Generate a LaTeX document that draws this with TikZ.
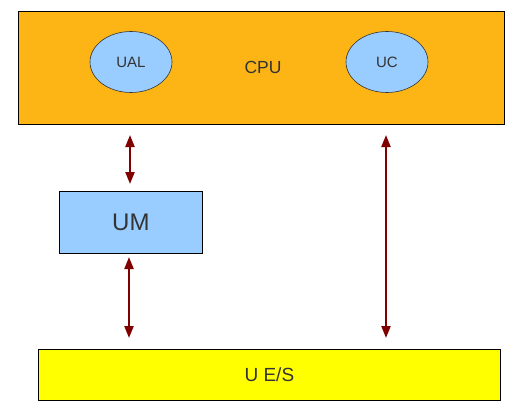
\documentclass[tikz,border=0pt]{standalone}
\usepackage{fontspec}
\setmainfont{Liberation Sans}
\usetikzlibrary{arrows.meta,shapes.geometric}
\definecolor{cpuorange}{HTML}{FDB515}
\definecolor{lblue}{HTML}{99CCFF}
\definecolor{ioyellow}{HTML}{FFFF00}
\definecolor{arrowred}{HTML}{800000}
\definecolor{txt}{HTML}{333333}
\tikzset{
  box/.style={draw=black, line width=0.8pt, inner sep=0pt, text=txt},
  unit/.style={ellipse, draw=black!80, line width=0.6pt, fill=lblue, inner sep=0pt, text=txt, font=\fontsize{15}{15}\selectfont},
  link/.style={draw=arrowred, line width=2.2pt, {Triangle[length=12pt,width=9pt]}-{Triangle[length=12pt,width=9pt]}}
}
\begin{document}
\begin{tikzpicture}[x=1pt,y=-1pt]
\useasboundingbox (0,0) rectangle (531,415);
\node[box, fill=cpuorange, minimum width=486pt, minimum height=113pt, anchor=north west] (cpu) at (18,11) {};
\node[text=txt, font=\fontsize{17.5}{17.5}\selectfont] (cputxt) at (263,67) {CPU};
\node[unit, minimum width=82pt, minimum height=61pt] (ual) at (131,62) {UAL};
\node[unit, minimum width=82pt, minimum height=61pt] (uc) at (387,62) {UC};
\node[box, fill=lblue, minimum width=143pt, minimum height=62pt, anchor=north west, font=\fontsize{24}{24}\selectfont] (um) at (59,191) {UM};
\node[box, fill=ioyellow, minimum width=462pt, minimum height=51pt, anchor=north west, font=\fontsize{19}{19}\selectfont] (io) at (38,349) {U E/S};
\coordinate (a1t) at (130,135);
\coordinate (a1b) at (130,184);
\coordinate (a2t) at (129,257);
\coordinate (a2b) at (129,338);
\coordinate (a3t) at (386,135);
\coordinate (a3b) at (386,338);
\draw[link] (a1t) -- (a1b);
\draw[link] (a2t) -- (a2b);
\draw[link] (a3t) -- (a3b);
\end{tikzpicture}
\end{document}
